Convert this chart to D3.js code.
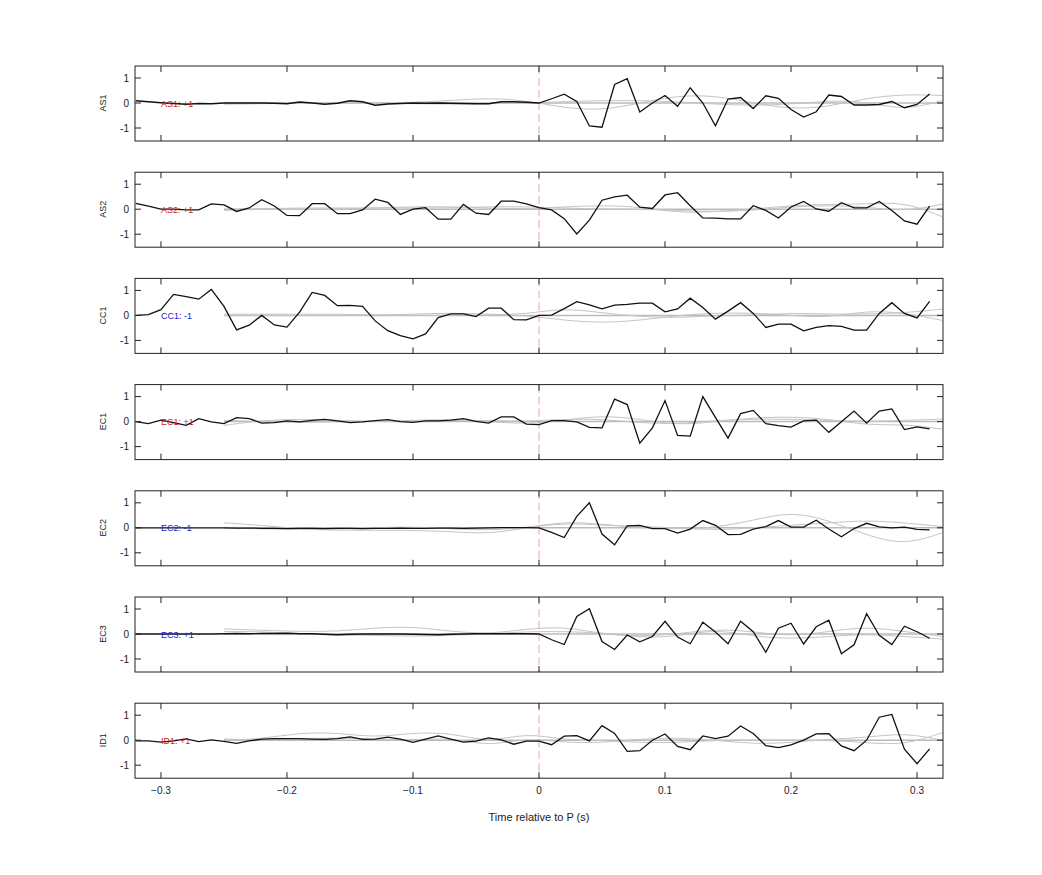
<!DOCTYPE html>
<html>
<head>
<meta charset="utf-8">
<script src="https://cdn.jsdelivr.net/npm/d3@7"></script>
<style>
body { margin: 0; background: #fff; }
text { font-family: "Liberation Sans", Arial, sans-serif; }
</style>
</head>
<body>
<div class="chart"></div>
<script>
// channels and their sign labels
var channels = ["AS1", "AS2", "CC1", "EC1", "EC2", "EC3", "ID1"];
var signs = ["+1", "+1", "-1", "+1", "-1", "+1", "+1"];
var signColors = ["#d62020", "#d62020", "#2020d0", "#d62020", "#2020d0", "#2020d0", "#d62020"];

// black traces, one sample every 0.01 s from -0.32 to 0.31
var as1 = [0.09,0.05,0.01,-0.02,-0.05,-0.02,-0.03,0,0,0,0,-0.01,-0.03,0.04,0,-0.05,-0.01,0.09,0.05,-0.09,-0.04,-0.02,0,-0.01,0,-0.01,-0.02,-0.03,-0.03,0.05,0.05,0.03,
  0,0.17,0.35,0.06,-0.92,-0.97,0.74,0.97,-0.36,0,0.3,-0.13,0.61,0,-0.91,0.16,0.22,-0.22,0.29,0.19,-0.26,-0.56,-0.35,0.32,0.26,-0.08,-0.08,-0.06,0.06,-0.19,-0.06,0.36];
var as2 = [0.23,0.12,0,0,-0.03,-0.03,0.21,0.17,-0.09,0.05,0.38,0.13,-0.25,-0.26,0.22,0.22,-0.18,-0.18,-0.03,0.4,0.27,-0.21,0,0.06,-0.4,-0.4,0.19,-0.16,-0.21,0.32,0.32,0.21,
  0.06,-0.03,-0.38,-0.99,-0.44,0.36,0.49,0.56,0.08,0.03,0.57,0.66,0.14,-0.35,-0.36,-0.39,-0.39,0.14,-0.05,-0.35,0.09,0.31,0.01,-0.08,0.26,0.05,0.05,0.31,-0.05,-0.47,-0.6,0.12];
var cc1 = [0,0.03,0.23,0.84,0.75,0.65,1.04,0.36,-0.58,-0.39,0,-0.38,-0.47,0.13,0.92,0.8,0.39,0.4,0.36,-0.22,-0.61,-0.81,-0.94,-0.74,-0.09,0.06,0.06,-0.05,0.29,0.29,-0.17,-0.18,
  0,0.01,0.27,0.55,0.42,0.26,0.41,0.44,0.49,0.49,0.14,0.26,0.69,0.32,-0.15,0.17,0.51,0.08,-0.48,-0.35,-0.35,-0.62,-0.48,-0.41,-0.44,-0.59,-0.59,0.08,0.51,0.08,-0.1,0.56];
var ec1 = [0,-0.08,0.06,-0.04,-0.15,0.12,-0.01,-0.08,0.16,0.12,-0.06,-0.04,0.03,-0.01,0.05,0.09,0.03,-0.04,-0.01,0.04,0.08,0,-0.03,0.03,0.03,0.06,0.12,0.01,-0.06,0.19,0.19,-0.1,
  -0.12,0.04,0.04,-0.01,-0.23,-0.25,0.9,0.68,-0.86,-0.25,0.84,-0.55,-0.58,1.0,0.17,-0.66,0.32,0.45,-0.08,-0.16,-0.22,0.03,0.06,-0.43,-0.01,0.42,-0.06,0.42,0.51,-0.32,-0.21,-0.29];
var ec2 = [0,0,0,0,0,0,0,0,-0.01,-0.01,-0.02,-0.02,-0.03,-0.02,-0.02,-0.03,-0.02,-0.02,-0.03,-0.02,-0.02,-0.01,-0.02,-0.02,-0.01,-0.01,-0.02,-0.01,0,0.01,0.01,0.01,
  0,-0.18,-0.39,0.46,1.0,-0.25,-0.68,0.08,0.1,-0.03,-0.03,-0.21,-0.05,0.29,0.1,-0.27,-0.26,-0.05,0.05,0.29,0.03,0.03,0.3,-0.05,-0.36,-0.03,0.18,0.04,0,0.03,-0.06,-0.08];
var ec3 = [0,0,0,0,0,0,0,0.01,0.02,0.01,0.02,0.02,0.03,0.01,0.01,-0.01,-0.03,-0.01,0,0,0,0,-0.01,-0.02,-0.03,-0.01,0,0.01,0.01,0.01,0.01,0.01,
  0,-0.23,-0.42,0.7,1.01,-0.3,-0.62,-0.04,-0.31,-0.1,0.51,-0.12,-0.39,0.47,0.08,-0.39,0.51,0.09,-0.73,0.23,0.43,-0.4,0.29,0.55,-0.79,-0.43,0.81,-0.05,-0.42,0.31,0.09,-0.17];
var id1 = [-0.03,-0.03,-0.08,-0.03,0.05,-0.06,0.01,-0.05,-0.13,-0.03,0.04,0.06,0.06,0.06,0.04,0.03,0.06,0.13,0.03,0.04,0.12,0.04,-0.09,0.04,0.17,0.04,-0.08,-0.04,0.09,0.01,-0.16,-0.04,
  -0.04,-0.18,0.16,0.18,-0.03,0.58,0.27,-0.45,-0.42,0,0.25,-0.25,-0.38,0.17,0.06,0.16,0.57,0.27,-0.22,-0.3,-0.19,0,0.25,0.26,-0.23,-0.42,0,0.92,1.03,-0.36,-0.94,-0.35];
var traces = [as1, as2, cc1, ec1, ec2, ec3, id1];

// gray smooth traces, one sample every 0.03 s from -0.25 to 0.32
var grayA = [
  [0,0,0,0,0,0.02,0.1,0.2,0.1,-0.2,-0.3,0,0.3,0.3,0,-0.25,-0.15,0.2,0.35,0.3],
  [0,0.02,0.05,0.05,0.05,0.05,0.05,0.1,0.1,0.05,0,0,-0.05,-0.1,-0.05,0.1,0.15,0.1,-0.1,0.2],
  [0.05,0.05,0.05,0.05,0.02,0,0,0.02,0.05,0.3,0.1,-0.05,-0.1,0,0,0.1,0.05,0.05,0.1,0.25],
  [-0.15,0.05,0.1,0.05,0,0,0.05,0.05,0,0.1,0.1,-0.05,-0.1,0.05,0.1,0.1,0.05,0,0.05,0.1],
  [0.2,0.1,-0.05,-0.05,0,0.05,-0.05,-0.1,0,0.25,0.15,0,-0.05,0,0.3,0.65,0.3,-0.3,-0.7,-0.2],
  [0.2,0.15,0.1,0.1,0.25,0.3,0.1,0,0.2,0.3,0,-0.1,0,0.2,0.1,-0.1,0.1,0.3,0.1,-0.1],
  [0,0.05,0.3,0.3,0.1,0.3,0.3,-0.1,0.3,0,0,-0.1,-0.1,0,0,0,0,-0.1,-0.2,0.3]
];
var grayB = [
  [-0.05,-0.03,0,0,0,-0.03,-0.05,-0.03,0,0.05,0.1,0.1,0.05,-0.05,-0.1,-0.05,0.1,0.05,-0.3,0.1],
  [-0.05,0,0,0,0.05,0.1,0.1,0.05,0,0.1,0.15,0.1,-0.15,-0.1,0,0.15,0.2,0.2,0.3,-0.3],
  [0,0,0,0,0,0.05,0.1,0.05,0,-0.2,-0.3,-0.2,0,0.1,0.1,0,-0.1,0.2,0.1,-0.2],
  [0.05,0,-0.05,0,0,0.05,0.1,0,-0.1,0.05,0.25,0.1,-0.15,0,0.15,0.2,0.1,-0.15,-0.1,-0.3],
  [0,-0.05,-0.05,-0.1,-0.1,-0.1,-0.15,-0.25,0,0.2,0.1,0.05,0,-0.1,0,0.1,0.2,0.3,0.2,0.05],
  [0.1,0.1,0,-0.05,-0.05,-0.1,-0.05,0,0.1,0.1,0.05,-0.15,-0.1,0.2,-0.1,-0.2,-0.1,0,-0.1,-0.2],
  [0.05,0,0.05,0.1,0.05,0,0.1,-0.25,0.1,-0.1,-0.1,0.05,0.1,0,-0.15,-0.1,0.05,0.1,0.3,0]
];

var width = 1042, height = 875;
var left = 135, right = 943, top0 = 66, panelH = 75, step = 106.2;

var svg = d3.select(".chart").append("svg").attr("width", width).attr("height", height);

var x = d3.scaleLinear().domain([-0.3206, 0.3206]).range([left, right]);
var xTicks = [-0.3, -0.2, -0.1, 0, 0.1, 0.2, 0.3];

traces.forEach(function(vals, p) {
  var top = top0 + p * step;
  var y = d3.scaleLinear().domain([-1.52, 1.48]).range([top + panelH, top]);
  var g = svg.append("g");

  var clipId = "clip" + p;
  svg.append("clipPath").attr("id", clipId).append("rect")
    .attr("x", left).attr("y", top).attr("width", right - left).attr("height", panelH);

  // flat gray reference line
  g.append("line").attr("x1", x(-0.25)).attr("x2", right).attr("y1", y(0)).attr("y2", y(0))
    .attr("stroke", "#bbb").attr("stroke-width", 1.5);

  var grayLine = d3.line().x(function(d, i) { return x(-0.25 + 0.03 * i); }).y(function(d) { return y(d); }).curve(d3.curveBasis);
  [grayA[p], grayB[p]].forEach(function(gd) {
    g.append("path").datum(gd).attr("d", grayLine).attr("fill", "none")
      .attr("stroke", "#c4c4c4").attr("stroke-width", 1).attr("clip-path", "url(#" + clipId + ")");
  });

  // dashed zero line
  g.append("line").attr("x1", x(0)).attr("x2", x(0)).attr("y1", top).attr("y2", top + panelH)
    .attr("stroke", "#e09090").attr("stroke-dasharray", "8,4").attr("stroke-width", 0.8);

  var line = d3.line().x(function(d, i) { return x(-0.32 + 0.01 * i); }).y(function(d) { return y(d); });
  g.append("path").datum(vals).attr("d", line).attr("fill", "none")
    .attr("stroke", "#111").attr("stroke-width", 1.3).attr("clip-path", "url(#" + clipId + ")");

  g.append("text").attr("x", x(-0.3)).attr("y", y(0) + 3.5).attr("font-size", 9)
    .attr("fill", signColors[p]).text(channels[p] + ": " + signs[p]);

  // box and ticks
  g.append("rect").attr("x", left).attr("y", top).attr("width", right - left).attr("height", panelH)
    .attr("fill", "none").attr("stroke", "#222").attr("stroke-width", 1);
  xTicks.forEach(function(t) {
    g.append("line").attr("x1", x(t)).attr("x2", x(t)).attr("y1", top).attr("y2", top + 6).attr("stroke", "#222");
    g.append("line").attr("x1", x(t)).attr("x2", x(t)).attr("y1", top + panelH).attr("y2", top + panelH - 6).attr("stroke", "#222");
  });
  [-1, 0, 1].forEach(function(v) {
    g.append("line").attr("x1", left).attr("x2", left + 6).attr("y1", y(v)).attr("y2", y(v)).attr("stroke", "#222");
    g.append("line").attr("x1", right).attr("x2", right - 6).attr("y1", y(v)).attr("y2", y(v)).attr("stroke", "#222");
    g.append("text").attr("x", left - 6).attr("y", y(v) + 3.5).attr("text-anchor", "end")
      .attr("font-size", 10).attr("fill", "#222").text(v);
  });
  g.append("text").attr("transform", "translate(106," + y(0) + ") rotate(-90)")
    .attr("text-anchor", "middle").attr("font-size", 9).attr("fill", "#222").text(channels[p]);

  if (p === traces.length - 1) {
    xTicks.forEach(function(t) {
      g.append("text").attr("x", x(t)).attr("y", top + panelH + 16).attr("text-anchor", "middle")
        .attr("font-size", 10).attr("fill", "#222").text(t === 0 ? "0" : d3.format("")(t));
    });
    g.append("text").attr("x", x(0)).attr("y", top + panelH + 43).attr("text-anchor", "middle")
      .attr("font-size", 11).attr("fill", "#222").text("Time relative to P (s)");
  }
});
</script>
</body>
</html>
